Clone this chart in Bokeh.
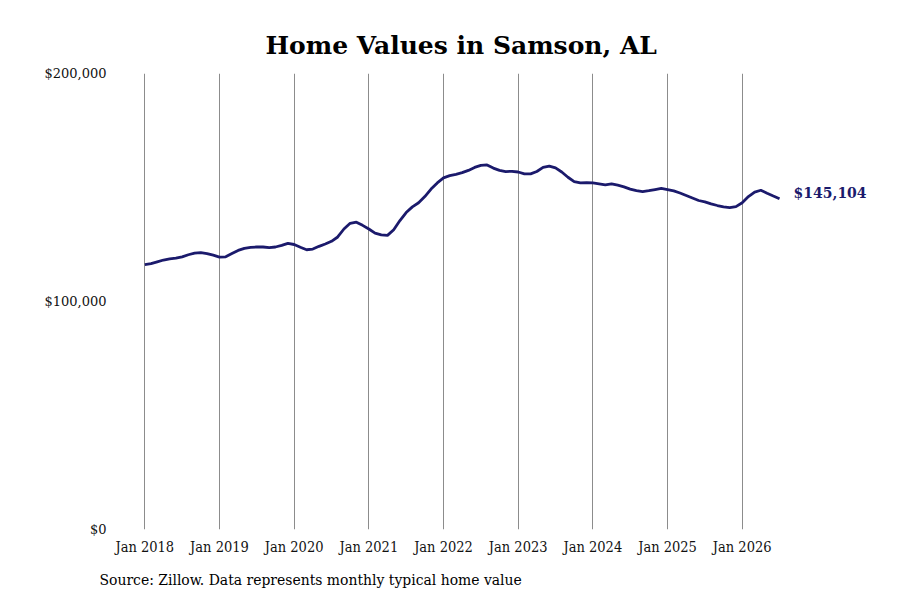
from bokeh.plotting import figure
from bokeh.models import ColumnDataSource, Range1d, FixedTicker, NumeralTickFormatter, Label, Title
from bokeh.embed import file_html
from bokeh.resources import INLINE

# typical home value, monthly, Jan..Dec per year (2026 ends in July)
vals_2018 = [116200, 116600, 117400, 118200, 118700, 119000, 119600, 120500, 121200, 121400, 121000, 120300]
vals_2019 = [119500, 119600, 121000, 122400, 123300, 123700, 123900, 123900, 123600, 123900, 124600, 125500]
vals_2020 = [125000, 123800, 122700, 123000, 124200, 125200, 126400, 128300, 131800, 134300, 134800, 133400]
vals_2021 = [131800, 130000, 129200, 129000, 131500, 135500, 139000, 141500, 143300, 146000, 149300, 152000]
vals_2022 = [154200, 155200, 155800, 156500, 157500, 158800, 159700, 159900, 158500, 157500, 157000, 157100]
vals_2023 = [156800, 156000, 156000, 157000, 158800, 159400, 158600, 156800, 154500, 152600, 152000, 152100]
vals_2024 = [152000, 151600, 151200, 151600, 151000, 150300, 149300, 148600, 148200, 148600, 149100, 149600]
vals_2025 = [149100, 148500, 147600, 146500, 145400, 144300, 143700, 142800, 142100, 141500, 141200, 141600]
vals_2026 = [143300, 146000, 148000, 148800, 147500, 146300, 145104]

years = [2018, 2019, 2020, 2021, 2022, 2023, 2024, 2025, 2026]
tick_labels = ["Jan %d" % y for y in years]
last_label = "$145,104"

all_years = [vals_2018, vals_2019, vals_2020, vals_2021, vals_2022,
             vals_2023, vals_2024, vals_2025, vals_2026]
xs, ys = [], []
for yr, vals in zip(years, all_years):
    for m, v in enumerate(vals):
        xs.append(yr + m / 12)
        ys.append(v)

source = ColumnDataSource(dict(x=xs, y=ys))

navy = "#1b1a6c"

p = figure(width=892, height=600, output_backend="svg", toolbar_location=None,
           x_range=Range1d(2017.6746, 2027.852), y_range=Range1d(0, 200000),
           min_border_left=120, min_border_right=12, min_border_top=73, min_border_bottom=67)
p.outline_line_color = None
p.background_fill_color = "white"

p.line("x", "y", source=source, line_color=navy, line_width=2.8)

# title
p.title.text = "Home Values in Samson, AL"
p.title.text_font = "DejaVu Serif"
p.title.text_font_size = "25px"
p.title.text_font_style = "bold"
p.title.text_color = "black"
p.title.align = "left"
p.title.offset = 145
p.title.standoff = 28

# x axis
p.xaxis.ticker = FixedTicker(ticks=years)
p.xaxis.major_label_overrides = {y: lbl for y, lbl in zip(years, tick_labels)}
p.xaxis.axis_line_color = None
p.xaxis.major_tick_line_color = None
p.xaxis.minor_tick_line_color = None
p.xaxis.major_label_standoff = 3
p.xaxis.major_label_text_font = "DejaVu Serif Condensed"
p.xaxis.major_label_text_font_size = "14.5px"
p.xaxis.major_label_text_color = "#111111"

# y axis
p.yaxis.ticker = FixedTicker(ticks=[0, 100000, 200000])
p.yaxis.formatter = NumeralTickFormatter(format="$0,0")
p.yaxis.axis_line_color = None
p.yaxis.major_tick_line_color = None
p.yaxis.minor_tick_line_color = None
p.yaxis.major_label_standoff = 8
p.yaxis.major_label_text_font = "DejaVu Serif"
p.yaxis.major_label_text_font_size = "13px"
p.yaxis.major_label_text_color = "#111111"

# grid
p.xgrid.ticker = FixedTicker(ticks=years)
p.xgrid.grid_line_color = "#8c8c8c"
p.xgrid.grid_line_width = 1
p.ygrid.grid_line_color = None

# end value label
p.add_layout(Label(x=xs[-1], y=ys[-1], text=last_label, x_offset=14, y_offset=6,
                   text_baseline="middle", text_font="DejaVu Serif", text_font_size="14px",
                   text_font_style="bold", text_color=navy))

# source note
p.add_layout(Title(text="Source: Zillow. Data represents monthly typical home value",
                   align="left", offset=-21, standoff=23, text_font="DejaVu Serif Condensed",
                   text_font_size="15.5px", text_font_style="normal", text_color="black"), "below")

open("out.html", "w").write(file_html(p, INLINE))
